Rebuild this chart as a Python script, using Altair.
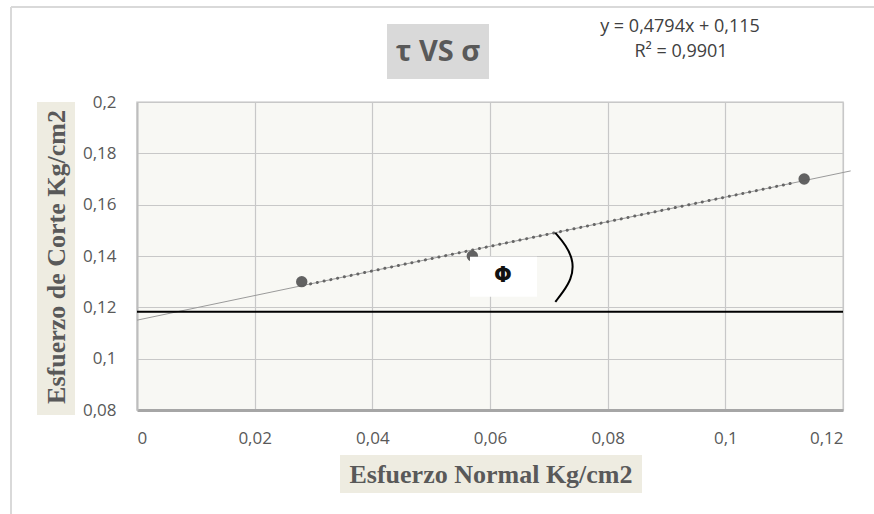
import altair as alt
import pandas as pd

# Measured points: normal stress (sigma) vs shear stress (tau), Kg/cm2
sigma = [0.028, 0.057, 0.1134]
tau = [0.13, 0.14, 0.17]

# Linear fit reported on the chart
slope = 0.4794
intercept = 0.115
r_squared = 0.9901

# Axis ticks
x_ticks = [0, 0.02, 0.04, 0.06, 0.08, 0.1, 0.12]
y_ticks = [0.08, 0.1, 0.12, 0.14, 0.16, 0.18, 0.2]

# Extents of the fitted line (thin full line and dotted segment between samples)
trend_span = [0.0, 0.1213]
dotted_span = [0.0295, 0.1115]

# Horizontal reference line and friction-angle annotation
ref_level = 0.1183
phi_box_x = [0.0566, 0.068]
phi_box_y = [0.1241, 0.1397]
phi_pos = [0.0622, 0.1321]
arc_x = [0.0711, 0.0729, 0.0743, 0.0738, 0.0724, 0.0711]
arc_y = [0.1490, 0.1443, 0.1377, 0.1307, 0.1260, 0.1221]

W, H = 706, 308
LABEL_COLOR = "#595959"
comma_fmt = "replace(format(datum.value, '~g'), '.', ',')"

x_scale = alt.Scale(domain=[0, 0.12], nice=False)
y_scale = alt.Scale(domain=[0.08, 0.2], nice=False, zero=False)

x_axis = alt.Axis(values=x_ticks, labelExpr=comma_fmt, title=None, ticks=False,
                  labelPadding=20, domainColor="#a6a6a6", domainWidth=3,
                  gridColor="#c8c8c8", gridWidth=1.2,
                  labelFont="Open Sans", labelFontSize=17, labelColor=LABEL_COLOR)
y_axis = alt.Axis(values=y_ticks, labelExpr=comma_fmt, title=None, ticks=False,
                  labelPadding=21, domainColor="#bdbdbd", domainWidth=2,
                  gridColor="#c8c8c8", gridWidth=1.2,
                  labelFont="Open Sans", labelFontSize=17, labelColor=LABEL_COLOR)


def X(field="x"):
    return alt.X(f"{field}:Q", scale=x_scale, axis=x_axis)


def Y(field="y"):
    return alt.Y(f"{field}:Q", scale=y_scale, axis=y_axis)


pts_df = pd.DataFrame({"x": sigma, "y": tau})

# Fitted line computed from the reported equation
trend_df = pd.DataFrame({"x": trend_span})
trend = alt.Chart(trend_df).transform_calculate(
    y=f"{slope} * datum.x + {intercept}"
).mark_line(color="#9a9a9a", strokeWidth=1, clip=False).encode(x=X(), y=Y())

dotted_df = pd.DataFrame({"x": dotted_span})
dotted = alt.Chart(dotted_df).transform_calculate(
    y=f"{slope} * datum.x + {intercept}"
).mark_line(color="#666666", strokeWidth=3, strokeDash=[0.1, 6.8],
            strokeCap="round").encode(x=X(), y=Y())

ref_df = pd.DataFrame({"x": [0.0], "x2": [0.12], "y": [ref_level]})
ref_line = alt.Chart(ref_df).mark_rule(color="#000000", strokeWidth=2).encode(
    x=X(), x2="x2:Q", y=Y()
)

points = alt.Chart(pts_df).mark_circle(size=130, color="#5a5a5a", opacity=0.95).encode(
    x=X(), y=Y()
)

phi_df = pd.DataFrame({"x": [phi_box_x[0]], "x2": [phi_box_x[1]],
                       "y": [phi_box_y[0]], "y2": [phi_box_y[1]]})
phi_rect = alt.Chart(phi_df).mark_rect(color="#ffffff").encode(
    x=X(), x2="x2:Q", y=Y(), y2="y2:Q"
)
phi_txt_df = pd.DataFrame({"x": [phi_pos[0]], "y": [phi_pos[1]], "t": ["Φ"]})
phi_text = alt.Chart(phi_txt_df).mark_text(
    font="DejaVu Sans", fontSize=21, fontWeight="bold", color="#111111",
    baseline="middle", align="center"
).encode(x=X(), y=Y(), text="t:N")

arc_df = pd.DataFrame({"x": arc_x, "y": arc_y, "k": list(range(len(arc_x)))})
arc = alt.Chart(arc_df).mark_line(color="#000000", strokeWidth=2, interpolate="basis").encode(
    x=X(), y=Y(), order="k:Q"
)

one = pd.DataFrame({"d": [0]})

# Title box
title_box = alt.Chart(one).mark_rect(color="#d9d9d9").encode(
    x=alt.value(250), x2=alt.value(352), y=alt.value(-78), y2=alt.value(-23)
)
title_txt = alt.Chart(one).mark_text(
    text="τ VS σ", font="Open Sans", fontSize=29, fontWeight="bold",
    color=LABEL_COLOR, align="center", baseline="middle"
).encode(x=alt.value(301), y=alt.value(-50))

eq_txt = alt.Chart(one).mark_text(
    text=f"y = {str(slope).replace('.', ',')}x + {str(intercept).replace('.', ',')}",
    font="Open Sans", fontSize=18, color="#404040", align="center", baseline="middle"
).encode(x=alt.value(543), y=alt.value(-75))
r2_txt = alt.Chart(one).mark_text(
    text=f"R² = {str(r_squared).replace('.', ',')}",
    font="Open Sans", fontSize=18, color="#404040", align="center", baseline="middle"
).encode(x=alt.value(544), y=alt.value(-50))

# Axis titles with shaded backgrounds
ytitle_box = alt.Chart(one).mark_rect(color="#eeece1").encode(
    x=alt.value(-100), x2=alt.value(-62), y=alt.value(0), y2=alt.value(313)
)
ytitle_txt = alt.Chart(one).mark_text(
    text="Esfuerzo de Corte Kg/cm2", font="Liberation Serif", fontSize=26,
    fontWeight="bold", color=LABEL_COLOR, angle=270, align="center", baseline="middle"
).encode(x=alt.value(-80), y=alt.value(155))

xtitle_box = alt.Chart(one).mark_rect(color="#eeece1").encode(
    x=alt.value(203), x2=alt.value(505), y=alt.value(353), y2=alt.value(391)
)
xtitle_txt = alt.Chart(one).mark_text(
    text="Esfuerzo Normal Kg/cm2", font="Liberation Serif", fontSize=26,
    fontWeight="bold", color=LABEL_COLOR, align="center", baseline="middle"
).encode(x=alt.value(354), y=alt.value(373))

# Outer chart frame (top and left edges)
frame_top = alt.Chart(one).mark_rule(color="#d9d9d9", strokeWidth=2).encode(
    x=alt.value(-126), x2=alt.value(740), y=alt.value(-95)
)
frame_left = alt.Chart(one).mark_rule(color="#d9d9d9", strokeWidth=2).encode(
    x=alt.value(-126), y=alt.value(-95), y2=alt.value(415)
)

chart = alt.layer(
    trend, ref_line, dotted, points, phi_rect, phi_text, arc,
    title_box, title_txt, eq_txt, r2_txt,
    ytitle_box, ytitle_txt, xtitle_box, xtitle_txt,
    frame_top, frame_left,
).properties(
    width=W, height=H,
    autosize=alt.AutoSizeParams(type="none"),
    padding={"left": 137, "top": 102, "right": 31, "bottom": 104},
    background="#ffffff",
).configure_view(
    fill="#f8f8f4", stroke="#d6d6d6", strokeWidth=1.5
)

chart.save("out.html", embed_options={"renderer": "svg", "actions": False})
